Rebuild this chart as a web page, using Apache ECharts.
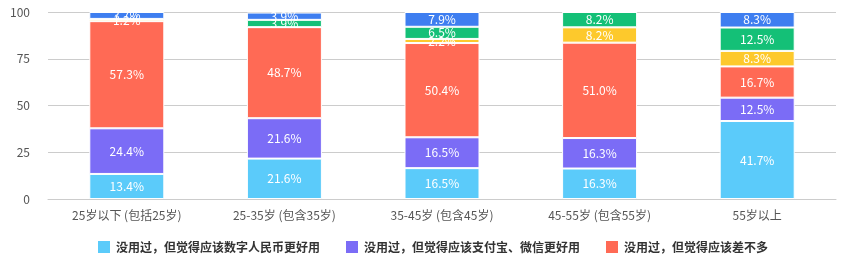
<!DOCTYPE html>
<html>
<head>
<meta charset="utf-8">
<script src="https://cdn.jsdelivr.net/npm/echarts@6/dist/echarts.min.js"></script>
<style>
  html, body { margin: 0; padding: 0; background: #fff; }
  #chart { width: 864px; height: 262px; }
</style>
</head>
<body>
<div id="chart"></div>
<script>
// Age groups on the x axis
const categories = ['25岁以下 (包括25岁)', '25-35岁 (包含35岁)', '35-45岁 (包含45岁)', '45-55岁 (包含55岁)', '55岁以上'];

// Share of respondents (%) per answer, one value per age group
const seriesNames = [
  '没用过，但觉得应该数字人民币更好用',
  '没用过，但觉得应该支付宝、微信更好用',
  '没用过，但觉得应该差不多',
  '用过，觉得数字人民币更好用',
  '用过，觉得支付宝、微信更好用',
  '用过，觉得差不多'
];
const digitalBetter   = [13.4, 21.6, 16.5, 16.3, 41.7];
const alipayBetter    = [24.4, 21.6, 16.5, 16.3, 12.5];
const aboutSame       = [57.3, 48.7, 50.4, 51.0, 16.7];
const usedDigital     = [1.2, 0, 2.2, 8.2, 8.3];
const usedAlipay      = [0, 3.9, 6.5, 8.2, 12.5];
const usedSame        = [3.7, 3.9, 7.9, 0, 8.3];

const yTicks = [0, 25, 50, 75, 100];

const colors = ['#5bcbfa', '#7b6cf6', '#ff6a55', '#fdc92c', '#14c077', '#3e7ef0'];
const seriesData = [digitalBetter, alipayBetter, aboutSame, usedDigital, usedAlipay, usedSame];

const chart = echarts.init(document.getElementById('chart'));
chart.setOption({
  animation: false,
  color: colors,
  textStyle: { fontFamily: '"Noto Sans CJK SC", "Noto Sans", sans-serif' },
  grid: { left: 48, right: 28, top: 12, bottom: 63, containLabel: false },
  legend: {
    data: seriesNames.slice(0, 3),
    bottom: 2,
    left: 'center',
    itemWidth: 14,
    itemHeight: 14,
    itemGap: 24,
    icon: 'rect',
    textStyle: { fontSize: 12, color: '#333', fontWeight: 'bold' }
  },
  xAxis: {
    type: 'category',
    data: categories,
    axisLine: { lineStyle: { color: '#ccc' } },
    axisTick: { lineStyle: { color: '#ccc' }, length: 6 },
    axisLabel: { color: '#555', fontSize: 12, margin: 10, interval: 0 }
  },
  yAxis: {
    type: 'value',
    min: yTicks[0],
    max: yTicks[yTicks.length - 1],
    interval: 25,
    axisLine: { show: false },
    axisTick: { show: false },
    axisLabel: { color: '#555', fontSize: 12, margin: 18 },
    splitLine: { lineStyle: { color: '#ccc' } }
  },
  series: seriesNames.map((name, i) => ({
    name: name,
    type: 'bar',
    stack: 'total',
    barWidth: 75,
    data: seriesData[i],
    itemStyle: { borderColor: '#fff', borderWidth: 1 },
    label: {
      show: true,
      position: 'inside',
      color: '#fff',
      fontSize: 12,
      formatter: p => (p.value > 0 ? p.value.toFixed(1) + '%' : '')
    }
  }))
});
</script>
</body>
</html>
